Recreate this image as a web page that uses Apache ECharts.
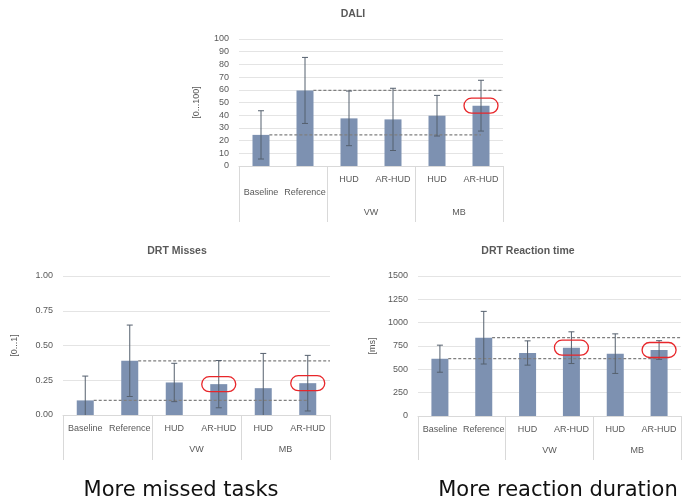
<!DOCTYPE html>
<html>
<head>
<meta charset="utf-8">
<script src="https://cdn.jsdelivr.net/npm/echarts@6/dist/echarts.min.js"></script>
<style>
html,body{margin:0;padding:0;background:#fff;}
#chart{width:686px;height:501px;}
</style>
</head>
<body>
<div id="chart"></div>
<script>
// ---- data ----
const categories = ['Baseline', 'Reference', 'HUD', 'AR-HUD', 'HUD', 'AR-HUD'];
const groups = ['', 'VW', 'MB'];

const daliMean = [24.5, 59.5, 37.5, 36.7, 39.6, 47.5];
const daliSd = [19, 26, 21.5, 24.5, 16, 20];
const daliTicks = [0, 100, 10];
const daliHighlight = [5];

const missMean = [0.105, 0.39, 0.234, 0.222, 0.193, 0.229];
const missSd = [0.175, 0.257, 0.138, 0.17, 0.25, 0.2];
const missTicks = [0, 1, 0.25];
const missHighlight = [3, 5];

const rtMean = [614, 839, 675, 732, 668, 707];
const rtSd = [145, 282, 130, 170, 212, 100];
const rtTicks = [0, 1500, 250];
const rtHighlight = [3, 5];

const titles = ['DALI', 'DRT Misses', 'DRT Reaction time'];
const yNames = ['[0...100]', '[0...1]', '[ms]'];
const captions = ['More missed tasks', 'More reaction duration'];

// ---- layout ----
const FONT = '"Liberation Sans", Arial, sans-serif';
const GREY = '#595959';
const BAR = '#7d91b1';
const grids = [
  {left: 239, width: 264, top: 39, height: 127},
  {left: 63, width: 267, top: 276, height: 139},
  {left: 418, width: 263, top: 276, height: 140}
];
const panels = [
  {mean: daliMean, sd: daliSd, ticks: daliTicks, hl: daliHighlight, dec: 0, tickLen: 56, grpMargin: 42, nameGap: 38, twoRow: true},
  {mean: missMean, sd: missSd, ticks: missTicks, hl: missHighlight, dec: 2, tickLen: 45, grpMargin: 30, nameGap: 44, twoRow: false},
  {mean: rtMean, sd: rtSd, ticks: rtTicks, hl: rtHighlight, dec: 0, tickLen: 44, grpMargin: 30, nameGap: 41, twoRow: false}
];

const xAxis = [], yAxis = [], series = [];
panels.forEach((p, i) => {
  // category axis with bar labels
  xAxis.push({
    type: 'category', gridIndex: i, data: categories, position: 'bottom',
    axisLine: {lineStyle: {color: '#d9d9d9'}},
    axisTick: {show: false},
    axisLabel: {
      interval: 0, color: GREY, fontFamily: FONT, fontSize: 9, margin: 9,
      formatter: (v, idx) => (p.twoRow && idx < 2) ? '{low|' + v + '}' : v,
      rich: {low: {padding: [13, 0, 0, 0], color: GREY, fontFamily: FONT, fontSize: 9}}
    }
  });
  // group axis (second level)
  xAxis.push({
    type: 'category', gridIndex: i, data: groups, position: 'bottom',
    axisLine: {show: false},
    axisTick: {show: true, interval: 0, length: p.tickLen, lineStyle: {color: '#d9d9d9'}},
    axisLabel: {interval: 0, color: GREY, fontFamily: FONT, fontSize: 9, margin: p.grpMargin}
  });
  // hidden value axis for reference lines
  xAxis.push({type: 'value', gridIndex: i, min: 0, max: 6, show: false});

  yAxis.push({
    type: 'value', gridIndex: i, min: p.ticks[0], max: p.ticks[1], interval: p.ticks[2],
    name: yNames[i], nameLocation: 'middle', nameRotate: 90, nameGap: p.nameGap,
    nameTextStyle: {color: GREY, fontFamily: FONT, fontSize: 9},
    axisLine: {show: false}, axisTick: {show: false},
    axisLabel: {color: GREY, fontFamily: FONT, fontSize: 9, margin: 10,
      formatter: v => v.toFixed(p.dec)},
    splitLine: {lineStyle: {color: '#e4e4e4'}}
  });

  const cx = 3 * i, vx = 3 * i + 2;
  series.push({
    type: 'bar', xAxisIndex: cx, yAxisIndex: i, data: p.mean, barWidth: 17,
    itemStyle: {color: BAR}, z: 2
  });
  // reference dashed lines (baseline level and reference level)
  series.push({
    type: 'line', xAxisIndex: vx, yAxisIndex: i, symbol: 'none', z: 3,
    data: [[0.69, p.mean[0]], [5.5, p.mean[0]]],
    lineStyle: {color: '#7f7f7f', width: 1.2, type: [3, 2]}
  });
  series.push({
    type: 'line', xAxisIndex: vx, yAxisIndex: i, symbol: 'none', z: 3,
    data: [[1.69, p.mean[1]], [6, p.mean[1]]],
    lineStyle: {color: '#7f7f7f', width: 1.2, type: [3, 2]}
  });
  // error bars
  series.push({
    type: 'custom', xAxisIndex: cx, yAxisIndex: i, z: 4,
    data: p.mean.map((m, k) => [k, m - p.sd[k], m + p.sd[k]]),
    renderItem: (params, api) => {
      const k = api.value(0), lo = api.value(1), hi = api.value(2);
      const top = api.coord([k, hi]);
      const bot = api.coord([k, Math.max(lo, p.ticks[0])]);
      const c = [];
      const st = {stroke: '#55606e', lineWidth: 1};
      c.push({type: 'line', shape: {x1: top[0], y1: top[1], x2: bot[0], y2: bot[1]}, style: st});
      c.push({type: 'line', shape: {x1: top[0] - 3, y1: top[1], x2: top[0] + 3, y2: top[1]}, style: st});
      if (lo > p.ticks[0]) c.push({type: 'line', shape: {x1: bot[0] - 3, y1: bot[1], x2: bot[0] + 3, y2: bot[1]}, style: st});
      return {type: 'group', children: c};
    }
  });
  // highlight rings
  series.push({
    type: 'custom', xAxisIndex: cx, yAxisIndex: i, z: 5,
    data: p.hl.map(k => [k, p.mean[k]]),
    renderItem: (params, api) => {
      const pt = api.coord([api.value(0), api.value(1)]);
      return {type: 'rect', shape: {x: pt[0] - 17, y: pt[1] - 7.5, width: 34, height: 15, r: 7.5},
        style: {fill: 'none', stroke: '#e8262a', lineWidth: 1.3}};
    }
  });
});

const titleStyle = {color: GREY, fontFamily: FONT, fontSize: 10.5, fontWeight: 'bold'};
const capStyle = {color: '#111', fontFamily: '"DejaVu Sans", sans-serif', fontSize: 21, fontWeight: 'normal'};
const option = {
  animation: false,
  backgroundColor: '#fff',
  title: [
    {text: titles[0], left: 348, top: 4, textAlign: 'center', textStyle: titleStyle},
    {text: titles[1], left: 172, top: 241, textAlign: 'center', textStyle: titleStyle},
    {text: titles[2], left: 523, top: 241, textAlign: 'center', textStyle: titleStyle},
    {text: captions[0], left: 176, top: 475, textAlign: 'center', textStyle: capStyle},
    {text: captions[1], left: 553, top: 475, textAlign: 'center', textStyle: capStyle}
  ],
  grid: grids,
  xAxis: xAxis,
  yAxis: yAxis,
  series: series
};
const chart = echarts.init(document.getElementById('chart'));
chart.setOption(option);
</script>
</body>
</html>
